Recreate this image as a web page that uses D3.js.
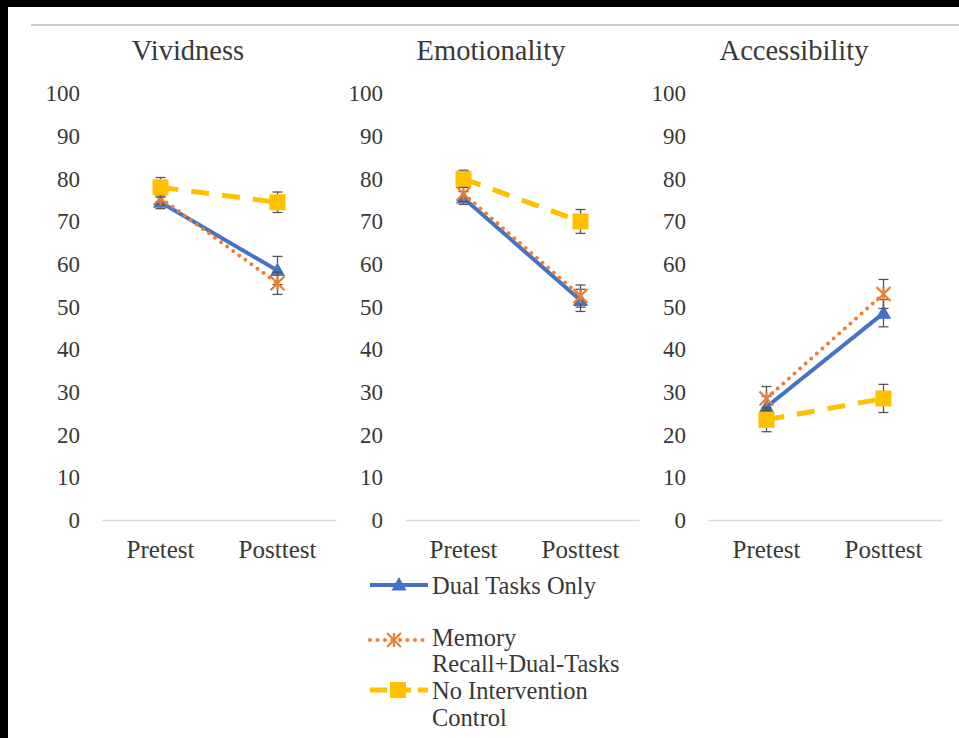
<!DOCTYPE html>
<html>
<head>
<meta charset="utf-8">
<script src="https://cdn.jsdelivr.net/npm/d3@7"></script>
<style>
  html, body { margin: 0; padding: 0; background: #000; }
  svg { display: block; }
  svg text { font-family: 'Liberation Serif', Tinos, serif; fill: #383838; }
</style>
</head>
<body>
<svg id="chart" width="959" height="738"></svg>
<script>
// Three panels of group means (± SE), pre vs post intervention
const panels = ["Vividness", "Emotionality", "Accessibility"];
const categories = ["Pretest", "Posttest"];
const yTicks = [0, 10, 20, 30, 40, 50, 60, 70, 80, 90, 100];

const seriesNames = ["Dual Tasks Only", "Memory Recall+Dual-Tasks", "No Intervention Control"];

// values per panel: [Pretest, Posttest]
const dualTasks   = [[74.5, 58.5], [75.5, 51.5], [26.5, 48.5]];
const memoryDual  = [[75.5, 55.5], [76.5, 52.5], [28.5, 53.0]];
const noControl   = [[78.0, 74.5], [80.0, 70.0], [23.5, 28.5]];

// standard errors per panel: [Pretest, Posttest]
const dualTasksErr  = [[1.5, 3.3], [1.5, 2.6], [2.5, 3.2]];
const memoryDualErr = [[1.5, 2.6], [1.8, 2.6], [2.8, 3.4]];
const noControlErr  = [[2.3, 2.4], [2.0, 2.8], [2.8, 3.3]];

const FONT = "Liberation Serif, Tinos, serif";
const TEXT_COLOR = "#383838";

const series = [
  { name: seriesNames[0], values: dualTasks,  errors: dualTasksErr,  color: "#4472c4", marker: "triangle", dash: null,    width: 4, cap: "butt" },
  { name: seriesNames[1], values: memoryDual, errors: memoryDualErr, color: "#ed7d31", marker: "star",     dash: "0,7.5", width: 4, cap: "round" },
  { name: seriesNames[2], values: noControl,  errors: noControlErr,  color: "#ffc000", marker: "square",   dash: "18,13", width: 5, cap: "butt" }
];

const svg = d3.select("#chart").attr("font-family", FONT);

// page frame
svg.append("rect").attr("x", 8).attr("y", 7).attr("width", 951).attr("height", 731).attr("fill", "#fff");
svg.append("line").attr("x1", 31).attr("x2", 959).attr("y1", 25).attr("y2", 25)
  .attr("stroke", "#bdbdbd").attr("stroke-width", 1.5);

const plotW = 234;
const panelStep = 303;
const firstLeft = 102;

const y = d3.scaleLinear().domain([0, 100]).range([520, 93.5]);
const x = d3.scaleBand().domain(categories).range([0, plotW]);
const xc = c => x(c) + x.bandwidth() / 2;

function drawMarker(g, type, color, cx, cy) {
  if (type === "triangle") {
    const s = 8;
    g.append("path")
      .attr("d", `M${cx},${cy - s} L${cx + s * 0.95},${cy + s * 0.7} L${cx - s * 0.95},${cy + s * 0.7} Z`)
      .attr("fill", color);
  } else if (type === "square") {
    const s = 8;
    g.append("rect").attr("x", cx - s).attr("y", cy - s).attr("width", 2 * s).attr("height", 2 * s)
      .attr("fill", color);
  } else if (type === "star") {
    const s = 7;
    g.append("path")
      .attr("d", `M${cx - s},${cy - s} L${cx + s},${cy + s} M${cx - s},${cy + s} L${cx + s},${cy - s} M${cx},${cy - s} L${cx},${cy + s}`)
      .attr("stroke", color).attr("stroke-width", 2.2).attr("fill", "none");
  }
}

function styleText(sel, size) {
  sel.attr("font-size", size).attr("font-family", FONT).attr("fill", TEXT_COLOR)
    .style("font-family", FONT);
}

panels.forEach((title, pi) => {
  const left = firstLeft + pi * panelStep;
  const g = svg.append("g").attr("transform", `translate(${left},0)`);

  // title
  g.append("text").attr("x", 86).attr("y", 60).attr("text-anchor", "middle")
    .call(styleText, 28.5).text(title);

  // y axis (labels only)
  const yAxis = d3.axisLeft(y).tickValues(yTicks).tickSize(0).tickPadding(22);
  const ya = g.append("g").call(yAxis).attr("font-family", FONT);
  ya.select(".domain").remove();
  ya.selectAll("text").call(styleText, 23);

  // x axis
  const xAxis = d3.axisBottom(x).tickSize(0).tickPadding(20);
  const xa = g.append("g").attr("transform", `translate(0,${y(0)})`).call(xAxis).attr("font-family", FONT);
  xa.select(".domain").attr("stroke", "#d9d9d9").attr("stroke-width", 1.5);
  xa.selectAll("text").call(styleText, 25);

  series.forEach(s => {
    const vals = s.values[pi];
    const errs = s.errors[pi];
    const pts = categories.map((c, i) => ({ c, v: vals[i], e: errs[i] }));
    const sg = g.append("g");

    sg.append("path").datum(pts)
      .attr("d", d3.line().x(d => xc(d.c)).y(d => y(d.v)))
      .attr("fill", "none").attr("stroke", s.color).attr("stroke-width", s.width)
      .attr("stroke-linecap", s.cap)
      .attr("stroke-dasharray", s.dash);

    pts.forEach(d => {
      const cx = xc(d.c);
      const eb = sg.append("g").attr("stroke", "#555").attr("stroke-width", 1.3);
      eb.append("line").attr("x1", cx).attr("x2", cx).attr("y1", y(d.v - d.e)).attr("y2", y(d.v + d.e));
      eb.append("line").attr("x1", cx - 5).attr("x2", cx + 5).attr("y1", y(d.v - d.e)).attr("y2", y(d.v - d.e));
      eb.append("line").attr("x1", cx - 5).attr("x2", cx + 5).attr("y1", y(d.v + d.e)).attr("y2", y(d.v + d.e));
      drawMarker(sg, s.marker, s.color, cx, y(d.v));
    });
  });
});

// legend
const legend = svg.append("g");
const legendRows = [
  { s: series[0], y: 585, mx: 399, lines: ["Dual Tasks Only"], ty: [585] },
  { s: series[1], y: 640, mx: 394, lines: ["Memory", "Recall+Dual-Tasks"], ty: [637, 663] },
  { s: series[2], y: 690, mx: 398, lines: ["No Intervention", "Control"], ty: [690, 717] }
];
legendRows.forEach(r => {
  legend.append("line").attr("x1", 370).attr("x2", r.s.marker === "star" ? 423 : 428).attr("y1", r.y).attr("y2", r.y)
    .attr("stroke", r.s.color).attr("stroke-width", r.s.width)
    .attr("stroke-linecap", r.s.cap)
    .attr("stroke-dasharray", r.s.marker === "square" ? "17,7" : r.s.dash);
  drawMarker(legend, r.s.marker, r.s.color, r.mx, r.y);
  r.lines.forEach((t, i) => {
    legend.append("text").attr("x", 432).attr("y", r.ty[i]).attr("dy", "0.35em")
      .call(styleText, 24.5).text(t);
  });
});
</script>
</body>
</html>
